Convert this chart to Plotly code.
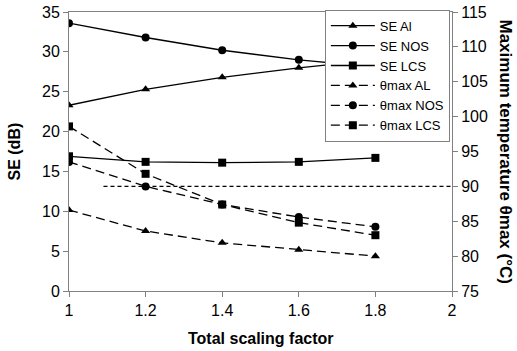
import plotly.graph_objects as go

x = [1.0, 1.2, 1.4, 1.6, 1.8]
se_al = [23.3, 25.3, 26.8, 28.0, 29.0]
se_nos = [33.6, 31.8, 30.2, 29.0, 28.1]
se_lcs = [16.9, 16.2, 16.1, 16.2, 16.7]
tmax_al = [86.6, 83.6, 81.9, 80.9, 80.0]
tmax_nos = [93.5, 90.0, 87.4, 85.6, 84.2]
tmax_lcs = [98.6, 91.8, 87.4, 84.8, 83.0]
limit_x = [1.09, 2.0]
limit_y = [90, 90]

FONT = "Liberation Sans, Arial, sans-serif"
dash = "9px,5px"

fig = go.Figure()
def add(name, y, sym, yaxis, dashed):
    fig.add_trace(go.Scatter(
        x=x, y=y, name=name, mode="lines+markers", yaxis=yaxis,
        line=dict(color="black", width=1.3, dash=dash if dashed else "solid"),
        marker=dict(symbol=sym, size=8, color="black"),
    ))

add("SE Al", se_al, "triangle-up", "y", False)
add("SE NOS", se_nos, "circle", "y", False)
add("SE LCS", se_lcs, "square", "y", False)
add("θmax AL", tmax_al, "triangle-up", "y2", True)
add("θmax NOS", tmax_nos, "circle", "y2", True)
add("θmax LCS", tmax_lcs, "square", "y2", True)
fig.add_trace(go.Scatter(x=limit_x, y=limit_y, yaxis="y2", mode="lines",
                         line=dict(color="black", width=1.2, dash="4px,3px"),
                         showlegend=False, hoverinfo="skip"))

axcol = "#808080"
fig.update_layout(
    width=517, height=351,
    margin=dict(l=69, r=65, t=12, b=60, autoexpand=False),
    paper_bgcolor="white", plot_bgcolor="white",
    font=dict(family=FONT, size=16, color="black"),
    showlegend=True,
    legend=dict(x=0.668, y=1.008, xanchor="left", yanchor="top",
                bgcolor="white", bordercolor=axcol, borderwidth=1,
                font=dict(size=13), tracegroupgap=0, itemwidth=44),
    xaxis=dict(range=[1, 2], tickvals=[1, 1.2, 1.4, 1.6, 1.8, 2],
               ticktext=["1", "1.2", "1.4", "1.6", "1.8", "2"],
               showgrid=False, zeroline=False, showline=True, linecolor=axcol,
               mirror=True, ticks="outside", ticklen=5, tickcolor=axcol),
    yaxis=dict(range=[0, 35], tickvals=list(range(0, 36, 5)), showgrid=False,
               zeroline=False, showline=True, linecolor=axcol, ticks="outside",
               ticklen=5, tickcolor=axcol),
    yaxis2=dict(range=[75, 115], tickvals=list(range(75, 116, 5)), overlaying="y",
                side="right", showgrid=False, zeroline=False, showline=True,
                linecolor=axcol, ticks="outside", ticklen=5, tickcolor=axcol),
    annotations=[
        dict(text="<b>SE (dB)</b>", x=0, xshift=-55, y=0.5, xref="paper", yref="paper",
             xanchor="center", yanchor="middle", textangle=-90, showarrow=False,
             font=dict(size=16)),
        dict(text="<b>Maximum temperature θmax (°C)</b>", x=1.0, y=0.5,
             xref="paper", yref="paper", xshift=53, xanchor="center", yanchor="middle",
             textangle=90, showarrow=False, font=dict(size=17)),
        dict(text="<b>Total scaling factor</b>", x=0.5, y=0, yshift=-47,
             xref="paper", yref="paper", xanchor="center", yanchor="middle",
             showarrow=False, font=dict(size=16)),
    ],
)
fig.write_html("out.html")
